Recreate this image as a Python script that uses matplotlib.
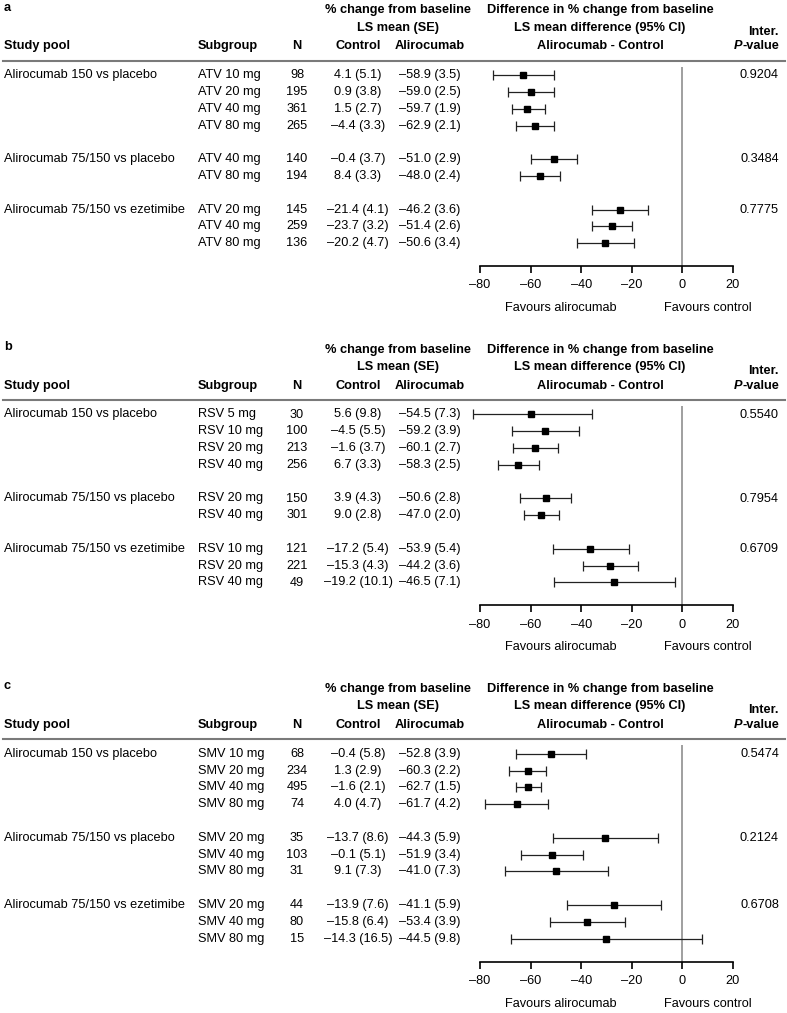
import matplotlib
matplotlib.use("Agg")
import matplotlib.pyplot as plt
from matplotlib.lines import Line2D
from matplotlib.transforms import blended_transform_factory
from matplotlib import font_manager

# ---------------- data ----------------
pools = ["Alirocumab 150 vs placebo", "Alirocumab 75/150 vs placebo",
         "Alirocumab 75/150 vs ezetimibe"]

groups_a = [4, 2, 3]
sub_a = ["ATV 10 mg", "ATV 20 mg", "ATV 40 mg", "ATV 80 mg", "ATV 40 mg", "ATV 80 mg",
         "ATV 20 mg", "ATV 40 mg", "ATV 80 mg"]
n_a = [98, 195, 361, 265, 140, 194, 145, 259, 136]
ctrl_a = ["4.1 (5.1)", "0.9 (3.8)", "1.5 (2.7)", "–4.4 (3.3)", "–0.4 (3.7)", "8.4 (3.3)",
          "–21.4 (4.1)", "–23.7 (3.2)", "–20.2 (4.7)"]
aliro_a = ["–58.9 (3.5)", "–59.0 (2.5)", "–59.7 (1.9)", "–62.9 (2.1)", "–51.0 (2.9)",
           "–48.0 (2.4)", "–46.2 (3.6)", "–51.4 (2.6)", "–50.6 (3.4)"]
diff_a = [-62.9, -59.8, -61.4, -58.3, -50.7, -56.4, -24.7, -27.9, -30.5]
lo_a = [-75.0, -68.9, -67.5, -65.8, -59.8, -64.3, -35.6, -35.9, -41.7]
hi_a = [-50.9, -50.7, -54.5, -50.9, -41.5, -48.5, -13.7, -20.0, -19.2]
p_a = ["0.9204", "0.3484", "0.7775"]

groups_b = [4, 2, 3]
sub_b = ["RSV 5 mg", "RSV 10 mg", "RSV 20 mg", "RSV 40 mg", "RSV 20 mg", "RSV 40 mg",
         "RSV 10 mg", "RSV 20 mg", "RSV 40 mg"]
n_b = [30, 100, 213, 256, 150, 301, 121, 221, 49]
ctrl_b = ["5.6 (9.8)", "–4.5 (5.5)", "–1.6 (3.7)", "6.7 (3.3)", "3.9 (4.3)", "9.0 (2.8)",
          "–17.2 (5.4)", "–15.3 (4.3)", "–19.2 (10.1)"]
aliro_b = ["–54.5 (7.3)", "–59.2 (3.9)", "–60.1 (2.7)", "–58.3 (2.5)", "–50.6 (2.8)",
           "–47.0 (2.0)", "–53.9 (5.4)", "–44.2 (3.6)", "–46.5 (7.1)"]
diff_b = [-59.9, -54.5, -58.3, -64.8, -54.0, -55.7, -36.5, -28.6, -27.1]
lo_b = [-82.7, -67.3, -67.1, -72.7, -64.1, -62.8, -51.2, -39.4, -50.7]
hi_b = [-35.7, -40.9, -49.0, -56.6, -43.9, -48.9, -21.3, -17.6, -2.9]
p_b = ["0.5540", "0.7954", "0.6709"]

groups_c = [4, 3, 3]
sub_c = ["SMV 10 mg", "SMV 20 mg", "SMV 40 mg", "SMV 80 mg", "SMV 20 mg", "SMV 40 mg",
         "SMV 80 mg", "SMV 20 mg", "SMV 40 mg", "SMV 80 mg"]
n_c = [68, 234, 495, 74, 35, 103, 31, 44, 80, 15]
ctrl_c = ["–0.4 (5.8)", "1.3 (2.9)", "–1.6 (2.1)", "4.0 (4.7)", "–13.7 (8.6)", "–0.1 (5.1)",
          "9.1 (7.3)", "–13.9 (7.6)", "–15.8 (6.4)", "–14.3 (16.5)"]
aliro_c = ["–52.8 (3.9)", "–60.3 (2.2)", "–62.7 (1.5)", "–61.7 (4.2)", "–44.3 (5.9)",
           "–51.9 (3.4)", "–41.0 (7.3)", "–41.1 (5.9)", "–53.4 (3.9)", "–44.5 (9.8)"]
diff_c = [-52.0, -61.2, -61.0, -65.2, -30.4, -51.4, -49.9, -26.9, -37.7, -30.2]
lo_c = [-65.6, -68.7, -65.8, -77.9, -51.0, -63.7, -70.3, -45.7, -52.3, -67.9]
hi_c = [-38.2, -53.9, -55.7, -53.0, -9.6, -39.4, -29.3, -8.4, -22.6, 7.9]
p_c = ["0.5474", "0.2124", "0.6708"]

xticks = [-80, -60, -40, -20, 0, 20]
xticklabels = ["–80", "–60", "–40", "–20", "0", "20"]

# ---------------- fonts ----------------
names = {f.name for f in font_manager.fontManager.ttflist}
if "Liberation Sans Narrow" in names:
    plt.rcParams['font.family'] = ['Liberation Sans Narrow', 'Liberation Sans', 'DejaVu Sans']
    FS = 11.1
else:
    plt.rcParams['font.family'] = ['Liberation Sans', 'DejaVu Sans']
    FS = 9.2

# ---------------- layout ----------------
W, H = 787, 1013
fig = plt.figure(figsize=(W / 100, H / 100), dpi=100)
renderer = fig.canvas.get_renderer()


def fx(px):
    return px / W


def fy(py):
    return 1 - py / H


ROW = 16.8
X0, X1 = 480, 733
X_POOL, X_SUB, X_N, X_CTRL, X_ALI, X_P = 4, 198, 297, 358, 430, 779
X_HDR1, X_HDR2 = 398, 600


def panel(label, rule, groups, subs, ns, ctrls, aliros, diffs, los, his, ps):
    rows, starts = [], []
    r = 0
    for g in groups:
        starts.append(r)
        for _ in range(g):
            rows.append(r)
            r += 1
        r += 1
    last = rows[-1]
    row0_px = rule + 14.5
    top_px = row0_px - 0.5 * ROW
    axis_px = row0_px + last * ROW + 23

    ax = fig.add_axes([fx(X0), fy(axis_px), fx(X1) - fx(X0), (axis_px - top_px) / H])
    ax.set_xlim(-80, 20)
    ax.set_ylim(last + 23 / ROW, -0.5)
    for s in ["top", "left", "right"]:
        ax.spines[s].set_visible(False)
    ax.spines["bottom"].set_linewidth(1.2)
    ax.set_yticks([])
    ax.set_xticks(xticks)
    ax.set_xticklabels(xticklabels, fontsize=FS)
    ax.tick_params(axis="x", direction="out", length=5, width=1.2, pad=4.5)
    ax.patch.set_alpha(0)
    ax.axvline(0, color="#8f8f8f", lw=1.2, zorder=1)

    cont = ax.errorbar(diffs, rows,
                       xerr=[[d - l for d, l in zip(diffs, los)],
                             [h - d for d, h in zip(diffs, his)]],
                       fmt="s", color="black", ecolor="#222222", ms=4.3,
                       capsize=3.4, elinewidth=0.9, capthick=0.9, zorder=3)
    for art in cont.get_children():
        art.set_clip_on(False)

    tr = blended_transform_factory(fig.transFigure, ax.transData)
    for i, rr in enumerate(rows):
        ax.text(fx(X_SUB), rr, subs[i], transform=tr, ha="left", va="center", fontsize=FS)
        ax.text(fx(X_N), rr, str(ns[i]), transform=tr, ha="center", va="center", fontsize=FS)
        ax.text(fx(X_CTRL), rr, ctrls[i], transform=tr, ha="center", va="center", fontsize=FS)
        ax.text(fx(X_ALI), rr, aliros[i], transform=tr, ha="center", va="center", fontsize=FS)
    for k, st in enumerate(starts):
        ax.text(fx(X_POOL), st, pools[k], transform=tr, ha="left", va="center", fontsize=FS)
        ax.text(fx(X_P), st, ps[k], transform=tr, ha="right", va="center", fontsize=FS)

    trf = blended_transform_factory(ax.transData, fig.transFigure)
    ax.text(-48, fy(axis_px + 42), "Favours alirocumab", transform=trf,
            ha="center", va="center", fontsize=FS)
    ax.text(10, fy(axis_px + 42), "Favours control", transform=trf,
            ha="center", va="center", fontsize=FS)

    # headers
    bold = dict(fontsize=FS, fontweight="bold", va="center")
    fig.text(fx(4), fy(rule - 53), label, ha="left", **bold)
    fig.text(fx(X_HDR1), fy(rule - 50.5), "% change from baseline", ha="center", **bold)
    fig.text(fx(X_HDR1), fy(rule - 33), "LS mean (SE)", ha="center", **bold)
    fig.text(fx(X_HDR2), fy(rule - 50.5), "Difference in % change from baseline", ha="center", **bold)
    fig.text(fx(X_HDR2), fy(rule - 33), "LS mean difference (95% CI)", ha="center", **bold)
    fig.text(fx(X_HDR2), fy(rule - 14.5), "Alirocumab - Control", ha="center", **bold)
    fig.text(fx(X_POOL), fy(rule - 14.5), "Study pool", ha="left", **bold)
    fig.text(fx(X_SUB), fy(rule - 14.5), "Subgroup", ha="left", **bold)
    fig.text(fx(X_N), fy(rule - 14.5), "N", ha="center", **bold)
    fig.text(fx(X_CTRL), fy(rule - 14.5), "Control", ha="center", **bold)
    fig.text(fx(X_ALI), fy(rule - 14.5), "Alirocumab", ha="center", **bold)
    fig.text(fx(X_P), fy(rule - 29), "Inter.", ha="right", **bold)
    tv = fig.text(fx(X_P), fy(rule - 14.5), "-value", ha="right", **bold)
    bb = tv.get_window_extent(renderer=renderer)
    fig.text(bb.x0 / W, fy(rule - 14.5), "P", ha="right", fontstyle="italic", **bold)
    fig.add_artist(Line2D([fx(3), fx(785)], [fy(rule), fy(rule)], transform=fig.transFigure,
                          color="#7a7a7a", lw=1.5))


panel("a", 60.7, groups_a, sub_a, n_a, ctrl_a, aliro_a, diff_a, lo_a, hi_a, p_a)
panel("b", 400.0, groups_b, sub_b, n_b, ctrl_b, aliro_b, diff_b, lo_b, hi_b, p_b)
panel("c", 739.3, groups_c, sub_c, n_c, ctrl_c, aliro_c, diff_c, lo_c, hi_c, p_c)

fig.savefig("out.png", dpi=100)
